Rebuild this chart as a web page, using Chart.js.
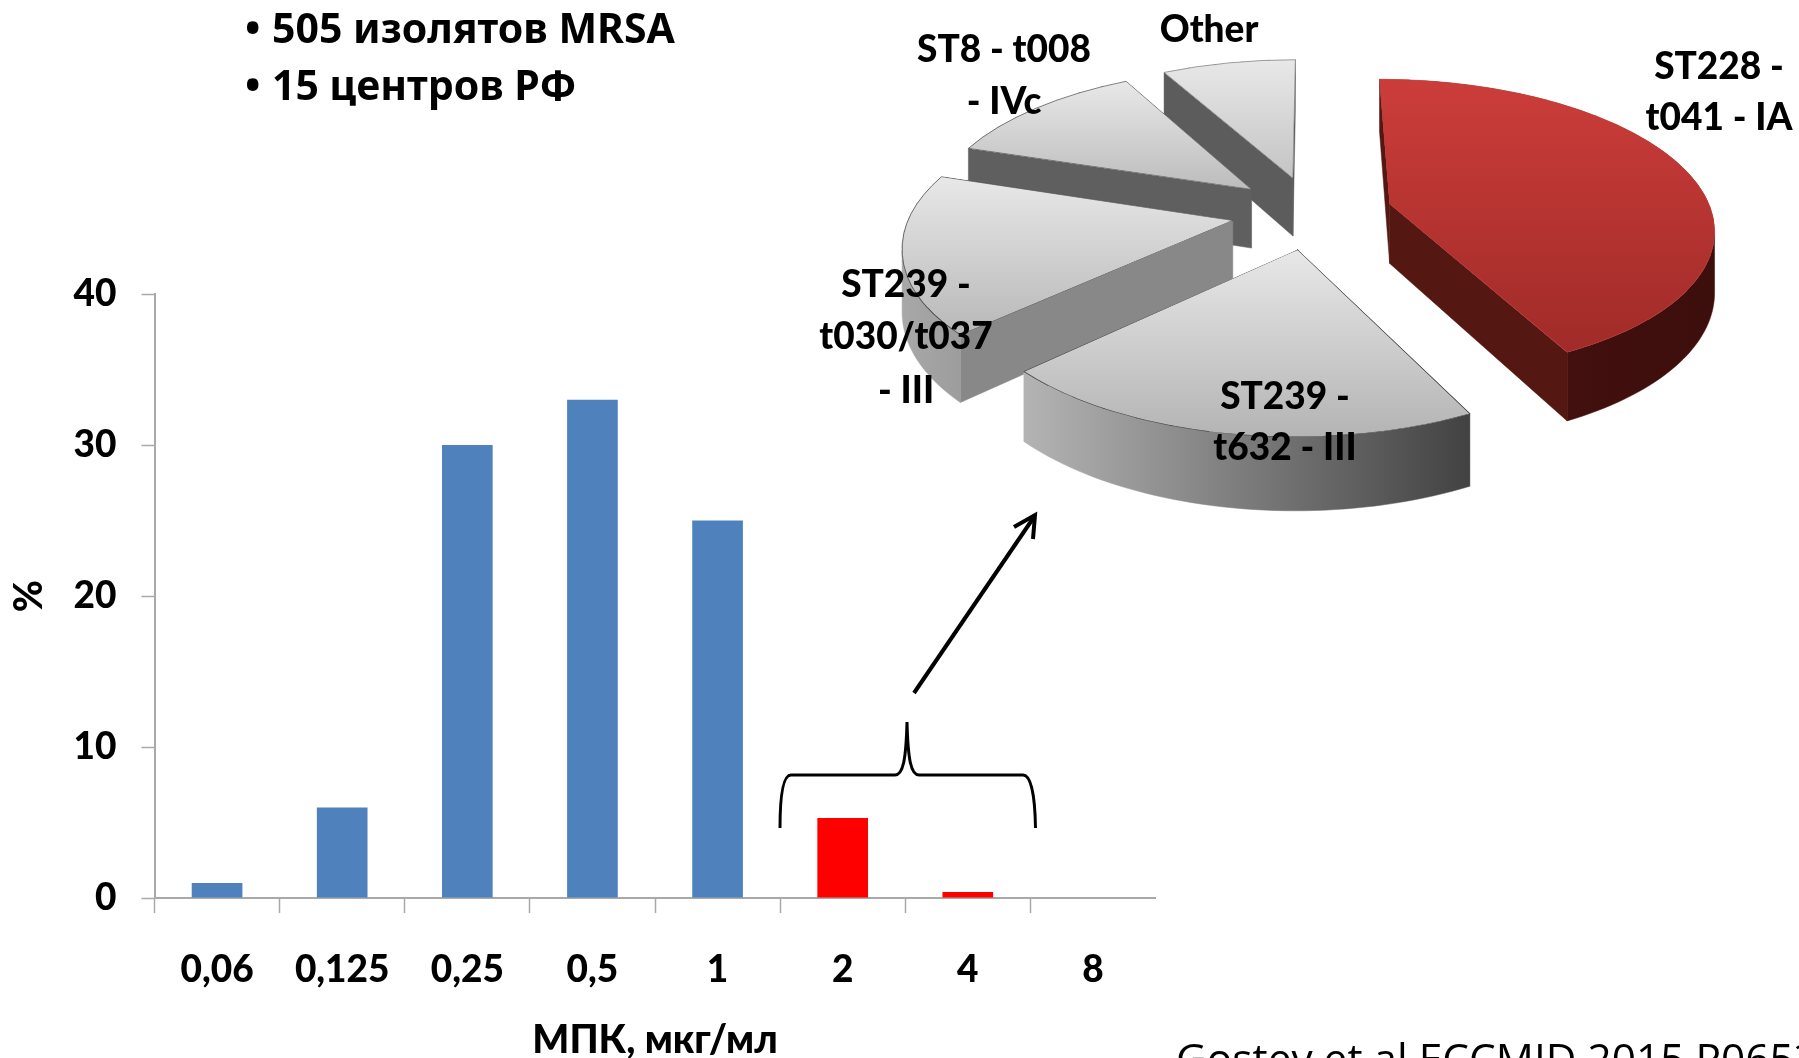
<!DOCTYPE html>
<html lang="ru"><head><meta charset="utf-8">
<script src="https://cdn.jsdelivr.net/npm/chart.js@4"></script>
<style>
html,body{margin:0;padding:0;background:#fff;width:1799px;height:1058px;overflow:hidden}
canvas{position:absolute;left:0;top:0}
svg{position:absolute;left:0;top:0}
.t{position:absolute;white-space:nowrap;color:#000;font:900 37px Lato,"Noto Sans",sans-serif;transform:translate(-50%,-50%);line-height:1}
.h{position:absolute;white-space:nowrap;color:#000;font:bold 41px "Noto Sans",sans-serif;line-height:1;transform:translateY(-50%)}
.f{position:absolute;white-space:nowrap;color:#000;font:42.400px "Open Sans",sans-serif;line-height:1}
</style></head><body>
<canvas id="bars" width="1799" height="1058"></canvas>
<canvas id="pie" width="1799" height="1058"></canvas>
<svg width="1799" height="1058" fill="none" stroke="#000">
<path d="M780 828 C780 795 783 775 791 775 L895 775 C903 775 906 760 907 722 C908 760 911 775 919 775 L1023 775 C1031 775 1035 795 1035.500 828" stroke-width="3"/>
<path d="M914 693 L1034 517" stroke-width="4"/>
<path d="M1014 527 L1035 515 L1033 539" stroke-width="4"/>
</svg>
<div class="h" style="left:245px;top:27px">•</div><div class="h" style="left:272px;top:27px">505 изолятов MRSA</div>
<div class="h" style="left:245px;top:84px">•</div><div class="h" style="left:272px;top:84px">15 центров РФ</div>
<div class="t" style="left:1209px;top:27px">Other</div>
<div class="t" style="left:1004px;top:47px">ST8 - t008</div>
<div class="t" style="left:1004px;top:99px">- IVc</div>
<div class="t" style="left:1719px;top:64px">ST228 -</div>
<div class="t" style="left:1719px;top:115px">t041 - IA</div>
<div class="t" style="left:906px;top:282px">ST239 -</div>
<div class="t" style="left:906px;top:334px">t030/t037</div>
<div class="t" style="left:906px;top:388px">- III</div>
<div class="t" style="left:1285px;top:394px">ST239 -</div>
<div class="t" style="left:1285px;top:445px">t632 - III</div>
<div class="f" style="left:1176px;top:1037px">Gostev et al ECCMID 2015 P0653</div>
<script>
const categories = ['0,06','0,125','0,25','0,5','1','2','4','8'];
const micValues = [1,6,30,33,25,5.3,0.4,0];
const barColors = ['#4F81BD','#4F81BD','#4F81BD','#4F81BD','#4F81BD','#FF0000','#FF0000','#FF0000'];
const yTicks = [0,10,20,30,40];
const pieLabels = ['ST228 - t041 - IA','ST239 - t632 - III','ST239 - t030/t037 - III','ST8 - t008 - IVc','Other'];
const pieValues = [42.6,20.3,17.1,12.1,7.9];

const axisGrey = '#A9A9A9';
const tickFont = {family:'Lato, "Noto Sans", sans-serif',weight:'900',size:37};
new Chart(document.getElementById('bars'),{
  type:'bar',
  data:{labels:categories,datasets:[{data:micValues,backgroundColor:barColors,barPercentage:0.405,categoryPercentage:1}]},
  options:{responsive:false,animation:false,
    layout:{padding:{left:0,top:294,right:643.5,bottom:0}},
    plugins:{legend:{display:false},tooltip:{enabled:false}},
    scales:{
      x:{afterFit(s){s.height=160},
        grid:{drawOnChartArea:false,tickLength:15,tickColor:c=>c.tick?axisGrey:'transparent',tickWidth:1.5},
        border:{color:axisGrey,width:2},
        ticks:{color:'#000',font:tickFont,padding:34.5,maxRotation:0},
        title:{display:true,text:'МПК, мкг/мл',color:'#000',font:{...tickFont,size:39,lineHeight:1},padding:{top:0,bottom:-2}}},
      y:{min:0,max:40,afterFit(s){s.width=154.5},
        afterBuildTicks(s){s.ticks=yTicks.map(v=>({value:v}))},
        grid:{drawOnChartArea:false,tickLength:13,tickColor:axisGrey,tickWidth:1.5},
        border:{color:axisGrey,width:2},
        ticks:{color:'#000',font:tickFont,padding:25},
        title:{display:true,text:'%',color:'#000',font:{...tickFont,size:39,lineHeight:1},padding:{top:10,bottom:0}}}
    }
  }
});

/* projection of the flat pie plane on the page: perspective view with extruded, exploded slices */
const view = {ox:1312,oy:212.3,A:322,C:146,k:0.152,depth:60,explode:0.25};
const topStops = [['#CC3D3A','#A02B28'],['#E8E8E8','#B4B4B4'],['#E8E8E8','#B8B8B8'],['#E8E8E8','#BCBCBC'],['#E8E8E8','#C4C4C4']];
const sideColors = ['#541712','#808080','#888888','#5F5F5F','#5C5C5C'];
const wallStops = [['#4A1210','#3C0E0C'],['#B4B4B4','#424242'],['#A8A8A8','#686868'],['#777777','#5A5A5A'],['#999999','#777777']];
const edgeColors = ['#B8403C','#444444','#444444','#444444','#666666'];
const WEDGE = Math.PI/30, WALL_STEP = Math.PI/120;

function project(X,Y){const w=1-view.k*Y;return {x:view.ox+view.A*X/w,y:view.oy+view.C*Y/w,w};}

const pie3d = {id:'pie3d',beforeDatasetDraw(chart){
  const ctx=chart.ctx, arcs=chart.getDatasetMeta(0).data;
  for(let i=arcs.length-1;i>=0;i--){
    const arc=arcs[i],s=arc.startAngle,e=arc.endAngle,m=(s+e)/2,R=arc.outerRadius;
    const fx=arc.x, fy=arc.y;
    const n0=[Math.cos(m)*view.explode,Math.sin(m)*view.explode];
    const q0=project(n0[0],n0[1]);
    const sample=count=>{const out=[];for(let j=0;j<=count;j++){
      const t=s+(e-s)*j/count,p=project(n0[0]+Math.cos(t),n0[1]+Math.sin(t));p.t=t;out.push(p);}return out;};
    const edge=sample(Math.ceil((e-s)/WALL_STEP));
    const pts=[q0,...edge,q0];
    const D=p=>view.depth/p.w;
    const minX=Math.min(...pts.map(p=>p.x)),maxX=Math.max(...pts.map(p=>p.x));
    const minY=Math.min(...pts.map(p=>p.y)),maxY=Math.max(...pts.map(p=>p.y));
    const wall=ctx.createLinearGradient(minX,0,maxX,0);
    wall.addColorStop(0,wallStops[i][0]);wall.addColorStop(1,wallStops[i][1]);
    const fillWall=(run,color)=>{
      if(run.length<2) return;
      ctx.beginPath();
      run.forEach((p,j)=>j?ctx.lineTo(p.x,p.y):ctx.moveTo(p.x,p.y));
      [...run].reverse().forEach(p=>ctx.lineTo(p.x,p.y+D(p)));
      ctx.closePath();
      ctx.fillStyle=ctx.strokeStyle=color;ctx.lineWidth=0.5;ctx.fill();ctx.stroke();
    };
    ctx.save();
    ctx.lineJoin='round';
    /* side walls that face the viewer: clockwise outline running leftwards */
    if(edge[0].x<q0.x) fillWall([q0,edge[0]],sideColors[i]);
    let run=[];
    for(let j=0;j<edge.length-1;j++){
      if(edge[j+1].x<edge[j].x){ if(!run.length) run.push(edge[j]); run.push(edge[j+1]); }
      else { fillWall(run,wall); run=[]; }
    }
    fillWall(run,wall);
    const last=edge[edge.length-1];
    if(q0.x<last.x) fillWall([last,q0],sideColors[i]);
    /* base under the top face, hides anti-aliased seams between the pieces below */
    const base=ctx.createLinearGradient(0,minY,0,maxY);
    base.addColorStop(0,topStops[i][0]);base.addColorStop(1,topStops[i][1]);
    ctx.beginPath();pts.forEach((p,j)=>j?ctx.lineTo(p.x,p.y):ctx.moveTo(p.x,p.y));ctx.closePath();
    ctx.fillStyle=base;ctx.fill();
    ctx.restore();
    /* top face: the library's own arc element, piecewise through the projection */
    const rim=sample(Math.max(2,Math.ceil((e-s)/WEDGE)));
    for(let j=0;j<rim.length-1;j++){
      const a0=rim[j].t,a1=rim[j+1].t,q1=rim[j],q2=rim[j+1];
      const ax=R*Math.cos(a0),ay=R*Math.sin(a0),bx=R*Math.cos(a1),by=R*Math.sin(a1),det=ax*by-ay*bx;
      const ux=q1.x-q0.x,uy=q1.y-q0.y,vx=q2.x-q0.x,vy=q2.y-q0.y;
      const a=(ux*by-vx*ay)/det,c=(vx*ax-ux*bx)/det,b=(uy*by-vy*ay)/det,d=(vy*ax-uy*bx)/det;
      const tx=q0.x-a*fx-c*fy,ty=q0.y-b*fx-d*fy;
      ctx.save();
      ctx.setTransform(a,b,c,d,tx,ty);
      const pad=0.003,far=1.1*R;
      ctx.beginPath();
      ctx.moveTo(fx-Math.cos((a0+a1)/2)*6,fy-Math.sin((a0+a1)/2)*6);
      ctx.lineTo(fx+far*Math.cos(a0-pad),fy+far*Math.sin(a0-pad));
      ctx.lineTo(fx+far*Math.cos(a1+pad),fy+far*Math.sin(a1+pad));
      ctx.closePath();ctx.clip();
      const norm=b*b+d*d,gp=yy=>({x:b*(yy-ty)/norm,y:d*(yy-ty)/norm});
      const g0=gp(minY),g1=gp(maxY),grad=ctx.createLinearGradient(g0.x,g0.y,g1.x,g1.y);
      grad.addColorStop(0,topStops[i][0]);grad.addColorStop(1,topStops[i][1]);
      arc.options={...arc.options,backgroundColor:grad,borderColor:edgeColors[i]};
      arc.draw(ctx);
      ctx.restore();
    }
  }
  return false;
}};
new Chart(document.getElementById('pie'),{
  type:'pie',
  data:{labels:pieLabels,datasets:[{data:pieValues,borderWidth:1.6,borderColor:'#444',backgroundColor:'#ccc'}]},
  options:{responsive:false,animation:false,plugins:{legend:{display:false},tooltip:{enabled:false}}},
  plugins:[pie3d]
});
</script>
</body></html>
